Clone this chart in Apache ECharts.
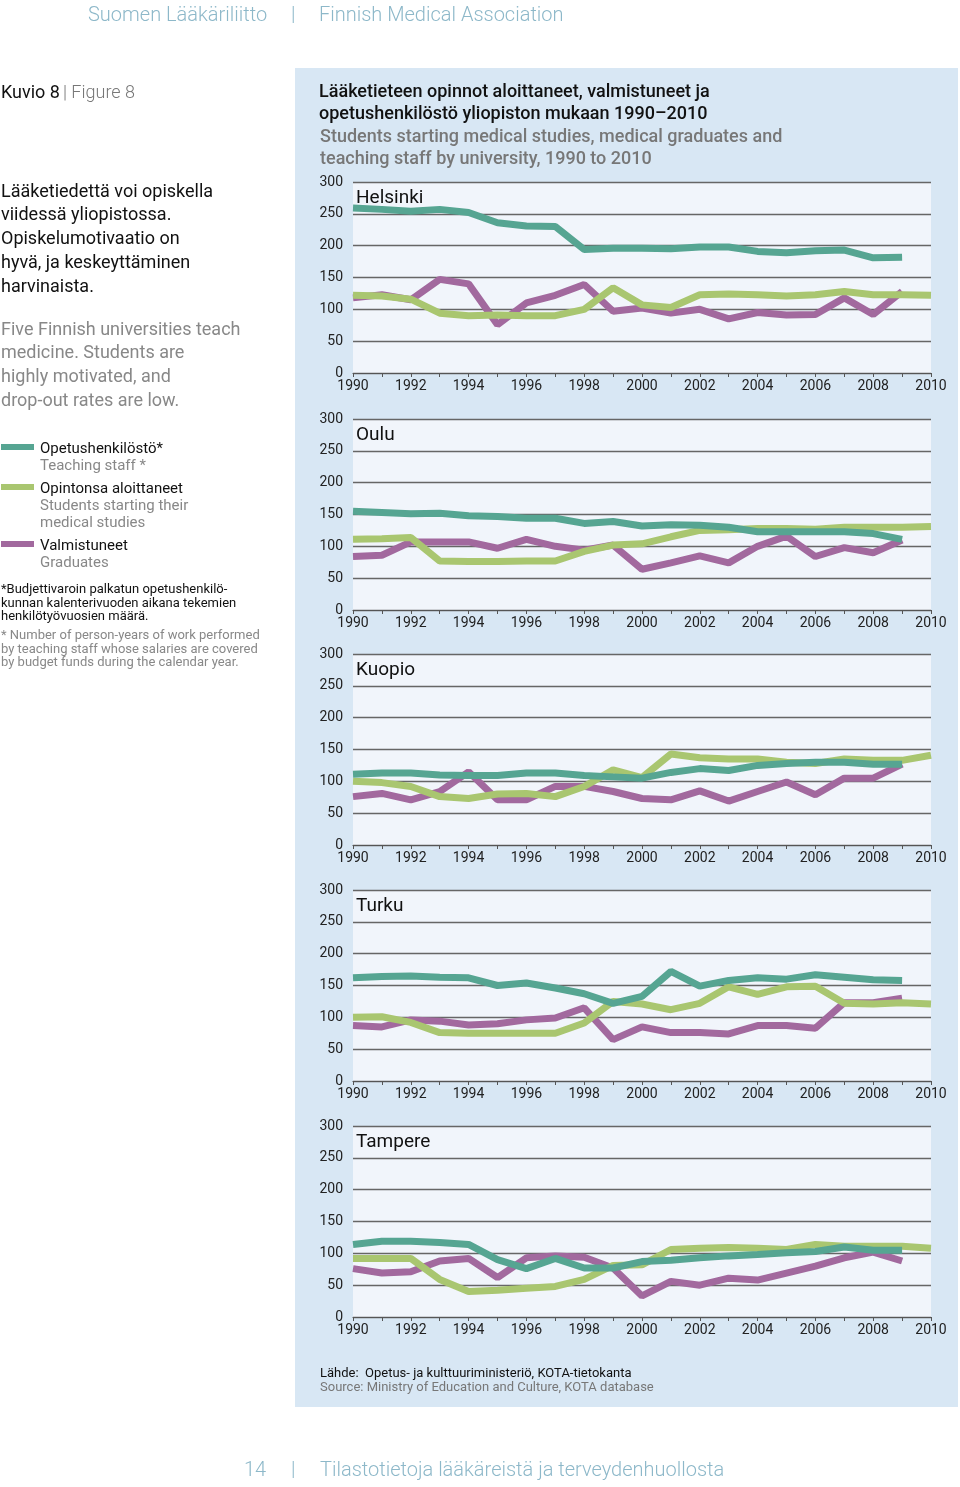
<!DOCTYPE html>
<html>
<head>
<meta charset="utf-8">
<script src="https://cdn.jsdelivr.net/npm/echarts@6/dist/echarts.min.js"></script>
<style>
html,body{margin:0;padding:0;background:#fff;}
#c{width:960px;height:1487px;}
</style>
</head>
<body>
<div id="c"></div>
<script>
// ---- data ----
var years = ['1990','1991','1992','1993','1994','1995','1996','1997','1998','1999','2000','2001','2002','2003','2004','2005','2006','2007','2008','2009','2010'];
var universities = ['Helsinki','Oulu','Kuopio','Turku','Tampere'];

var hkiStaff = [259,257,254,257,252,236,231,230,194,196,196,195,198,198,191,189,192,193,181,182,null];
var hkiStart = [122,121,116,94,90,91,90,90,100,134,107,103,123,124,123,121,123,128,123,123,122];
var hkiGrad  = [118,123,115,147,140,76,110,122,139,97,102,94,100,85,95,91,92,118,92,128,null];

var ouluStaff = [155,153,151,152,148,147,144,144,136,139,132,134,133,130,123,123,123,123,120,111,null];
var ouluStart = [111,112,114,77,76,76,77,77,92,102,104,115,125,126,128,128,127,130,130,130,131];
var ouluGrad  = [84,86,107,107,107,97,111,100,94,102,64,74,85,74,100,116,84,98,90,110,null];

var kuoStaff = [111,113,113,110,109,109,113,113,109,107,105,114,120,117,125,128,130,130,127,127,null];
var kuoStart = [100,98,92,76,73,80,81,76,92,118,106,143,137,135,135,130,128,135,133,133,141];
var kuoGrad  = [76,81,71,84,115,71,71,92,92,84,73,71,85,69,84,99,79,105,105,127,null];

var tkuStaff = [162,164,165,163,162,150,154,146,137,122,133,172,149,158,162,160,167,163,159,158,null];
var tkuStart = [100,101,92,76,75,75,75,75,91,125,121,112,122,148,136,148,149,122,121,123,121];
var tkuGrad  = [87,85,96,94,88,90,96,99,115,65,85,76,76,74,87,87,83,123,123,130,null];

var tmpStaff = [114,119,119,117,114,90,76,92,77,77,87,89,93,96,98,101,103,110,105,105,null];
var tmpStart = [92,92,92,59,40,42,45,48,59,81,82,106,108,109,108,106,114,111,111,111,108];
var tmpGrad  = [76,69,71,88,92,62,93,96,94,77,33,56,50,61,58,69,80,93,102,88,null];

var staffSeries = [hkiStaff, ouluStaff, kuoStaff, tkuStaff, tmpStaff];
var startSeries = [hkiStart, ouluStart, kuoStart, tkuStart, tmpStart];
var gradSeries  = [hkiGrad, ouluGrad, kuoGrad, tkuGrad, tmpGrad];

var yTicks = {min:0, max:300, interval:50};

// ---- styles ----
var C_STAFF = '#56a592', C_START = '#a9c670', C_GRAD = '#a2699e';
var BODY = "Roboto, 'Open Sans', sans-serif";
var NARROW = "'Liberation Sans Narrow', Roboto, sans-serif";
var gridTops = [182, 419, 654, 890, 1126];
var gridH = 191, gridL = 353, gridR = 29;
var TY = 2; // text vertical nudge

var chart = echarts.init(document.getElementById('c'), null, {renderer:'canvas'});

var grids = [], xAxes = [], yAxes = [], series = [];
universities.forEach(function(u, i){
  grids.push({left:gridL, right:gridR, top:gridTops[i], height:gridH, show:true,
    backgroundColor:'#f1f5fb', borderWidth:0});
  xAxes.push({type:'category', gridIndex:i, data:years, boundaryGap:false,
    axisLine:{lineStyle:{color:'#555', width:1.2}},
    axisTick:{show:true, interval:0, length:4, lineStyle:{color:'#555'}},
    axisLabel:{interval:1, color:'#222', fontFamily:NARROW, fontSize:14, margin:6},
    splitLine:{show:false}});
  yAxes.push({type:'value', gridIndex:i, min:yTicks.min, max:yTicks.max, interval:yTicks.interval,
    axisLine:{show:false}, axisTick:{show:false},
    axisLabel:{color:'#222', fontFamily:NARROW, fontSize:14, margin:10},
    splitLine:{lineStyle:{color:'#666', width:1.3}}});
  var common = {type:'line', xAxisIndex:i, yAxisIndex:i, symbol:'none', silent:true, animation:false};
  series.push(Object.assign({name:'Valmistuneet', data:gradSeries[i], lineStyle:{color:C_GRAD, width:7}, z:3}, common));
  series.push(Object.assign({name:'Opintonsa aloittaneet', data:startSeries[i], lineStyle:{color:C_START, width:7}, z:4}, common));
  series.push(Object.assign({name:'Opetushenkilöstö', data:staffSeries[i], lineStyle:{color:C_STAFF, width:7}, z:5}, common));
});

function txt(x, y, s, size, color, font, weight, align){
  return {type:'text', x:x, y:y+TY, z:100, silent:true,
    style:{text:s, fill:color, font:(weight||'normal')+' '+size+'px '+(font||BODY),
      align:align||'left', verticalAlign:'middle', textAlign:align||'left', textVerticalAlign:'middle'}};
}

var g = [];
g.push({type:'rect', shape:{x:295, y:68, width:663, height:1339}, style:{fill:'#d8e7f4'}, z:-10, silent:true});
// header/footer
g.push(txt(88, 14, 'Suomen Lääkäriliitto', 20, '#8db8c9', BODY, '300'));
g.push(txt(291, 14, '|', 20, '#8db8c9', BODY, '300'));
g.push(txt(319, 14, 'Finnish Medical Association', 20, '#8db8c9', BODY, '300'));
g.push(txt(244, 1469, '14', 20, '#8db8c9', BODY, '300'));
g.push(txt(291, 1469, '|', 20, '#8db8c9', BODY, '300'));
g.push(txt(320, 1469, 'Tilastotietoja lääkäreistä ja terveydenhuollosta', 20, '#8db8c9', BODY, '300'));
// figure label
g.push(txt(1, 91, 'Kuvio 8', 18, '#111', BODY));
g.push(txt(63, 91, '| Figure 8', 18, '#777', BODY, '300'));
// left text
var fi = ['Lääketiedettä voi opiskella','viidessä yliopistossa.','Opiskelumotivaatio on','hyvä, ja keskeyttäminen','harvinaista.'];
fi.forEach(function(s,k){ g.push(txt(1, 190+k*23.8, s, 18, '#111', BODY)); });
var en = ['Five Finnish universities teach','medicine. Students are','highly motivated, and','drop-out rates are low.'];
en.forEach(function(s,k){ g.push(txt(1, 328+k*23.8, s, 18, '#888', BODY)); });
// legend
var leg = [[447, C_STAFF, 'Opetushenkilöstö*', ['Teaching staff *']],
           [487, C_START, 'Opintonsa aloittaneet', ['Students starting their','medical studies']],
           [544, C_GRAD, 'Valmistuneet', ['Graduates']]];
leg.forEach(function(l){
  g.push({type:'rect', shape:{x:1, y:l[0]-3, width:33, height:6}, style:{fill:l[1]}, silent:true});
  g.push(txt(40, l[0], l[2], 15, '#111', BODY));
  l[3].forEach(function(s,k){ g.push(txt(40, l[0]+17+k*17, s, 15, '#888', BODY)); });
});
// footnotes
['*Budjettivaroin palkatun opetushenkilö-','kunnan kalenterivuoden aikana tekemien','henkilötyövuosien määrä.'].forEach(function(s,k){
  g.push(txt(1, 588+k*13.5, s, 13, '#111', BODY)); });
['* Number of person-years of work performed','by teaching staff whose salaries are covered','by budget funds during the calendar year.'].forEach(function(s,k){
  g.push(txt(1, 634+k*13.5, s, 13, '#888', BODY)); });
// chart title
g.push(txt(319, 90, 'Lääketieteen opinnot aloittaneet, valmistuneet ja', 18, '#111', BODY, '500'));
g.push(txt(319, 112, 'opetushenkilöstö yliopiston mukaan 1990–2010', 18, '#111', BODY, '500'));
g.push(txt(320, 135, 'Students starting medical studies, medical graduates and', 18, '#777', BODY, '500'));
g.push(txt(320, 157, 'teaching staff by university, 1990 to 2010', 18, '#777', BODY, '500'));
// panel labels
universities.forEach(function(u,i){ g.push(txt(356, gridTops[i]+14, u, 19, '#111', BODY)); });
// source
g.push(txt(320, 1372, 'Lähde:  Opetus- ja kulttuuriministeriö, KOTA-tietokanta', 13, '#111', BODY));
g.push(txt(320, 1386, 'Source: Ministry of Education and Culture, KOTA database', 13, '#777', BODY));

chart.setOption({
  animation:false,
  backgroundColor:'#ffffff',
  grid:grids, xAxis:xAxes, yAxis:yAxes, series:series, graphic:g
});
</script>
</body>
</html>
